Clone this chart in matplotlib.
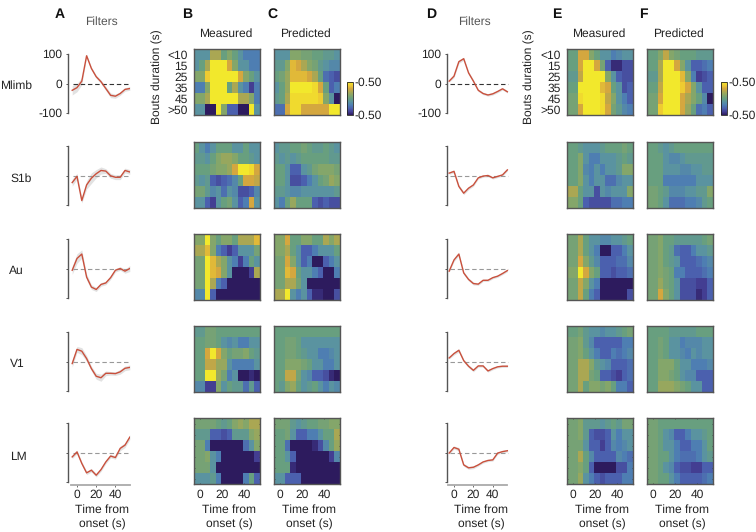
import numpy as np
import matplotlib
matplotlib.use('Agg')
import matplotlib.pyplot as plt
from matplotlib.colors import LinearSegmentedColormap

plt.rcParams['font.family'] = ['Liberation Sans', 'DejaVu Sans']
plt.rcParams['text.hinting'] = 'no_hinting'
plt.rcParams['text.hinting_factor'] = 1

W, H = 756, 532

# time axis of the filters (s)
filter_t = [-5, 0, 5, 10, 15, 20, 25, 30, 35, 40, 45, 50, 55]

# filters, panel A
a_mlimb = [-23, -14, 8, 94, 51, 23, 6, -17, -40, -43, -34, -20, -17]
a_s1b = [-24, -3, -85, -32, -9, 6, 17, 15, -1, -6, -6, 17, 12]
a_au = [-6, 34, 49, -29, -63, -71, -54, -49, -31, -6, 0, -9, 0]
a_v1 = [-7, 41, 35, 10, -24, -50, -55, -40, -40, -41, -35, -23, -20]
a_lm = [-15, 2, -37, -69, -60, -77, -58, -32, -12, -17, 14, 25, 52]

# filters, panel D
d_mlimb = [8, 25, 74, 84, 36, 8, -23, -34, -39, -35, -27, -18, -28]
d_s1b = [8, 14, -37, -60, -43, -32, -8, -2, 0, -8, -3, 2, 19]
d_au = [-9, 29, 49, -15, -37, -51, -53, -40, -40, -31, -26, -17, -7]
d_v1 = [12, 27, 38, 3, -16, -30, -15, -15, -32, -24, -18, -16, -16]
d_lm = [-2, 17, 11, -42, -52, -50, -42, -32, -27, -25, -2, 3, 6]

# sem of the filters
a_sem_mlimb = [16, 14, 12, 5, 5, 5, 6, 7, 8, 7, 6, 6, 6]
a_sem_s1b = [12, 10, 8, 14, 18, 14, 12, 8, 8, 8, 8, 8, 8]
a_sem_au = [14, 16, 14, 10, 8, 7, 6, 6, 6, 6, 6, 7, 10]
a_sem_v1 = [12, 10, 12, 10, 8, 10, 12, 8, 6, 6, 8, 8, 8]
a_sem_lm = [6, 6, 6, 6, 6, 6, 6, 6, 6, 6, 8, 8, 8]
d_sem = [4, 5, 6, 5, 5, 5, 4, 4, 4, 4, 4, 4, 4]

# heat maps, tenths of a unit: rows are bout durations, columns 5 s time bins
b_mlimb = [[-1, -1, -1, 2, 2, 0, 1, 0, -1, -2, -2, -2],
           [-1, 0, 2, 5, 5, 5, 3, 1, -1, -1, -2, -2],
           [1, 1, 4, 5, 5, 5, 5, 5, 3, 1, 0, -1],
           [-2, -2, 1, 5, 5, 5, 0, 2, -1, -2, -4, -2],
           [1, 1, 2, 5, 5, 5, 5, 5, 2, 2, 1, -2],
           [-1, -1, -5, -5, 5, 1, -3, -3, -5, -5, 5, -1]]
c_mlimb = [[-1, -1, -1, 1, 1, 0.5, 0.5, 0, 0, -0.5, -0.5, -1],
           [-0.5, -0.5, 1, 3.5, 3, 2, 1, 0.5, -0.5, -1, -1.5, -1.5],
           [0, 0.5, 1.5, 3.5, 3.5, 3.5, 3, 2, 0, -2.5, -3, -3.5],
           [-1, 0, 1.5, 5, 5, 5, 5, 4.5, 3, 0, -3, -2],
           [-0.5, 0, 2, 4.5, 4.5, 4.5, 4.5, 4.5, 4, 1, -1, -5],
           [-2.5, -2.5, 3, 4.5, 4.5, 3, 3, 3, 3, 3, 5, 5]]
b_s1b = [[0, -1, -2, -1, 0, 0, 0, -1, -1, 0, -1, -1],
         [-0.5, -0.5, -1, 0, 1, 1.5, 1.5, 1, 0, 0, -0.5, -1],
         [0, 0, 0, 0.5, 1, 1, 1.5, 3, 5, 5, 4.5, 3],
         [-0.5, -1, -0.5, -3, -3.5, -3, -2.5, -1.5, 0, 3, 3, 2.5],
         [0.5, 0.5, -0.5, -1.5, -1, -2.5, -1, -1.5, -3.5, -3.5, -3, -1.5],
         [-1, -1, -3, -4, -1, 0, 0.5, -1, -3, -2, 3, -1]]
c_s1b = [[-1, -0.5, -0.5, 0, 0, 0.5, 0, -0.5, -0.5, 0, -0.5, -1],
         [-0.5, -1, -0.5, -1, -0.5, 0, 0, 0, 0, 0, -0.5, -0.5],
         [0, 0, -1, -3, -3, -1, -0.5, 0.5, 1, 1, 1, 0.5],
         [0, 0, -1, -3.5, -3.5, -3, -2, -1, 0, 0.5, 1.5, 1],
         [-0.5, -0.5, -1, -1.5, -1.5, -1, -1, -1, -1, -1, -1, -0.5],
         [-1, -2, 0, 1.5, 0, 0, 0, -3, -3.5, -3, -3.5, -3.5]]
b_au = [[1, 1, 5, 1, 0, 1, 1, 0, 2, 2, 2, 3.5],
        [2, 2, 3.5, 1, -2, -3, -4, -3, -1, -1, -1, 0.5],
        [0.5, 0.5, 5, 3.5, 2, 1, -1, -2, -4, -2, 0, -1],
        [0.5, 0.5, 5, 3.5, 3, 1, -1, -5, -5, -5, -4, 2],
        [0.5, 0.5, 5, 2, -2, -3, -5, -5, -5, -5, -5, -5],
        [-1.5, -1.5, 5, -3, -5, -5, -5, -5, -5, -5, -5, -5]]
c_au = [[1, 1, 3, 0, 0, 1, 1, 0, 0, 2, 1, 2],
        [1, 1, 2, 0, -1, -3, -3, -2, -1, -1, -1, 0],
        [0.5, 0.5, 3, 1, -1, -3, -2, -5, -5, -3, -2, -1],
        [0.5, 0.5, 3.5, 3, 0, -1, -1, -2, -3, -5, -5, -2],
        [0.5, 0.5, 2, 2, 0.5, -1, -5, -5, -5, -5, -5, -5],
        [2, 2, 5, -1, -2, -1, -3, -4.5, -4.5, -5, -5, -3.5]]
b_v1 = [[-0.5, -0.5, 0.5, 0.5, 0, 0, 0, 0, 0, 0, 0, 0],
        [0, 0, 0.5, 0.5, 0, -1, -1.5, -1, -2, -2, -1, -1],
        [0, 0, 3, 5, 3, 1, 0, 0.5, 0.5, 1, 0, -0.5],
        [0, 0, 2.5, 2.5, 1.5, 1.5, -1, -2, -2, -2, -2, -1],
        [0, 0, 5, 5, 1.5, 0.5, -2, -1, -5, -5, -4.5, -5],
        [-1.5, -1.5, -4, -4, 1, -1, 0, -0.5, -0.5, -2.5, -0.5, -3]]
c_v1 = [[0, 0, 0, 0, 0, 0, 0, 0, 0, 0, 0, 0],
        [0, 0, 0.5, 0.5, 0, -1, -1, -1, -1, -1, -1, -1],
        [0, 0, 0.5, 0.5, 0, -0.5, -1, -1, -2, -2, -1.5, -1],
        [0, 0, 1, 1, 1, 0.5, 0, -1, -1, -2, -2, -1],
        [0, 0, 2.5, 2.5, 0.5, -1, -1.5, -3, -3, -3.5, -4.5, -5],
        [0, -0.5, 1, 1.5, 0, -1, -0.5, 0, -1, -2, -1, -1.5]]
b_lm = [[0.5, 0.5, 0.5, 0.5, 0, -0.5, 0, 1, 1.5, 1, 2, 2],
        [-0.5, -0.5, -0.5, -3, -3, -3.5, -3, -0.5, -0.5, -0.5, 1, 1.5],
        [0.5, 0.5, -2, -5, -5, -5, -5, -5, -5, -2.5, -1, 1],
        [0.5, 0.5, 1, -1, -2, -5, -5, -5, -5, -5, -5, -4],
        [0.5, 0.5, 0.5, -1, -5, -5, -5, -5, -5, -5, -5, -5],
        [-1, -1, -1, -0.5, -2, -5, -5, -5, -5, -2, 0, -3]]
c_lm = [[0.5, 0.5, 0.5, -0.5, -1, -0.5, 0, 0, 0.5, 0.5, 1, 1],
        [0, 0, 0.5, -1, -3, -3, -2, -2, -1, 0, 0, 2],
        [0, 0, -2.5, -5, -5, -5, -5, -4.5, -3.5, -1.5, 0, 1.5],
        [0, 0, -1, -3, -5, -5, -5, -5, -5, -5, -4, -1.5],
        [0, 0, 0, -4.5, -5, -5, -5, -5, -5, -5, -5, -5],
        [-1, -1, -3, -3, -3, -5, -5, -5, -5, -5, -5, -5]]

e_mlimb = [[0, 0, 3, 3, 1, 0, -1, -1, -2, -1.5, -1, -1],
           [0, 0, 3, 5, 5, 3, 0.5, -3, -4.5, -4.5, -3.5, -3.5],
           [-0.5, -0.5, 2.5, 5, 5, 5, 5, 1, -1, -3, -3.5, -3.5],
           [0, 0, 5, 5, 5, 5, 3.5, 3, 0, -1, -3.5, -3],
           [0.5, 0.5, 4.5, 5, 5, 5, 4.5, 2.5, 1, -1, -2, -3],
           [0.5, 0.5, 3, 5, 5, 5, 4.5, 3, 0.5, -0.5, -1.5, -2]]
f_mlimb = [[0, 0, 1, 2.5, 1, 0.5, 0, 0, 0, -0.5, -0.5, -0.5],
           [0, 0, 2, 5, 5, 3, 1, -1, -3, -3, -2.5, -2],
           [-0.5, -0.5, 2, 5, 5, 5, 3.5, 1, -2, -4, -3.5, -3],
           [0, 0, 2.5, 5, 5, 5, 4, 3, 1, -1, -3, -3],
           [0.5, 0.5, 3, 5, 5, 5, 3, 2, 1, 0, -1.5, -5],
           [0.5, 0.5, 4, 5, 5, 5, 3, 1.5, 0, -2.5, -2, -3]]
e_s1b = [[0, 0, -0.5, -1, -1, -1, -0.5, 0, 0, 0, 0.5, 0],
         [0, 0, 1, -1, -2, -2, -1, -1, -1, -0.5, 0, -0.5],
         [0, 0, 1, -1.5, -2, -1, -2, -1, -1, -0.5, 1, 1],
         [0, 0, 1, -1, -2, -1, -1, -2.5, -2.5, -1.5, -1, -1],
         [2, 2, 0, -1, -1, -3.5, -1, -1.5, -1, -1, -1, 1],
         [1, 1, 0, -3, -3.5, -3.5, -3.5, -3.5, -2.5, -2.5, -2, -2]]
f_s1b = [[0, 0, -0.5, -1, -0.5, 0, 0, 0, 0, 0, 0, 0],
         [0, 0, 0, -1, -1.5, -1.5, -1, -0.5, -0.5, -0.5, -0.5, -0.5],
         [0, 0, 0, -1, -1, -1, -1.5, -1.5, -1, -1, -0.5, -0.5],
         [0, 0, 0, -2, -2, -2, -2, -2, -2, -1, -1, -1],
         [0.5, 0.5, 0, -0.5, -1.5, -1.5, -1.5, -1, -1, -0.5, -0.5, 1],
         [0.5, 0.5, 0, -1, -2.5, -2.5, -2.5, -2, -2, -1.5, -0.5, 0]]
e_au = [[0.5, 0.5, 2, 0, -1, -1, -1.5, -1.5, -1, -1, -0.5, 0],
        [0.5, 0.5, 2, 0, -1, -2, -5, -5, -3, -3, -2, -1],
        [0.5, 0.5, 3, 1, -0.5, -1.5, -3, -3, -3, -2.5, -2.5, -1.5],
        [1, 1, 5, 3, 1, 0, -3, -3, -3.5, -3, -3, -2.5],
        [0.5, 0.5, 2.5, 1, -1, -2, -5, -5, -5, -5, -5, -5],
        [0.5, 0.5, 2.5, 0, -2, -3, -5, -5, -5, -5, -5, -3.5]]
f_au = [[0.5, 0.5, 1, 0, 0, -0.5, -0.5, -0.5, -0.5, -0.5, 0, 0.5],
        [0.5, 0.5, 1, 0, -0.5, -2.5, -3, -3, -2, -1, -1, -0.5],
        [0.5, 0.5, 1, 0, -0.5, -1, -3, -3, -3, -2.5, -2, -1.5],
        [0.5, 0.5, 1, 0.5, 0, -2, -2, -3, -3, -3, -2.5, -2],
        [0.5, 0.5, 1.5, 0.5, 0, -1, -3.5, -3.5, -3.5, -4, -4, -3],
        [0.5, 0.5, 3, 1, 0, -1, -3.5, -3.5, -3.5, -4.5, -4, -3]]
e_v1 = [[0, 0, 0.5, -0.5, -1, -1, -1.5, -1, -1, -0.5, 0, 0.5],
        [0.5, 0.5, 1, -0.5, -1.5, -3, -3, -3, -3, -3, -2, -2],
        [0.5, 0.5, 1, 0, -1, -2, -3, -3, -2, -2.5, -2, -1.5],
        [0.5, 0.5, 2, 2, 1, -0.5, -1, -1.5, -3, -3, -3, -2.5],
        [0.5, 0.5, 2, 2, 0.5, 0, -3, -3, -3.5, -4, -3, -2.5],
        [0.5, 0.5, 2, 0, 1, 1, 0.5, 1, 0, -2, -2, -3]]
f_v1 = [[0, 0, 0, 0, -0.5, -0.5, -0.5, -0.5, -0.5, 0, 0, 0],
        [0, 0, 0.5, 0, -1, -1, -2, -1.5, -1.5, -1.5, -1, -1],
        [0, 0, 0.5, 0, -1, -1, -1.5, -2, -1, -1.5, -1, -1],
        [0, 0, 1, 1, 1, 0, -1, -1, -2, -2, -2, -1.5],
        [0, 0, 1, 1, 0.5, 0, -1, -1.5, -1.5, -3, -3, -3],
        [0, 0, 1.5, 1.5, 1.5, 1, 0.5, 0, -1, -1, -3, -3]]
e_lm = [[0.5, 0.5, 1, -0.5, -0.5, -0.5, -1, -0.5, 0, -0.5, 0.5, 0.5],
        [0.5, 0.5, 1, -0.5, -3, -3.5, -3.5, -3, -1, -2, -1, -1],
        [0.5, 0.5, 0.5, -1, -3, -3, -4, -3, -1.5, -2, -1.5, -1],
        [0.5, 0.5, 2, 0, -1.5, -3, -3, -3, -3, -1.5, -2, -2.5],
        [0.5, 0.5, 1, 0, -3, -5, -5, -5, -5, -3.5, -3.5, -2],
        [0.5, 0.5, 1.5, -1, -2, -3, -3.5, -3, -3, -3, -2, -2]]
f_lm = [[0.5, 0.5, 0, 0, 0, 0, 0, 0, 0, 0, 0, 0],
        [0.5, 0.5, 0, -1, -1.5, -3, -3, -2, -1, -1, -0.5, 0],
        [0.5, 0.5, 0, -1, -1, -2, -3, -3, -2, -2, -1, 0],
        [0.5, 0.5, 0, 0, -1, -2, -2.5, -2.5, -2.5, -2, -1, -0.5],
        [0.5, 0.5, 0, -1, -1.5, -3, -3.5, -3.5, -4, -4, -3, -3],
        [0.5, 0.5, 0, 0, -1, -2, -3, -3, -3, -3, -2.5, -2]]

region_names = ['Mlimb', 'S1b', 'Au', 'V1', 'LM']
duration_labels = ['<10', '15', '25', '35', '45', '>50']
time_ticks = [0, 20, 40]

colors = ['#2d1b5e', '#443f94', '#4b60ae', '#4f7fb3', '#5a93a0', '#689f80',
          '#85a66a', '#aaa854', '#d4a73f', '#eecb32', '#f2e82c']
parula = LinearSegmentedColormap.from_list('parula_like', colors)

DARK = '#222222'
SPINE = '#555555'
FS = 8.6


def px_axes(x0, y0, x1, y1):
    # axes from pixel box, y counted from the top
    return fig.add_axes([x0 / W, 1 - y1 / H, (x1 - x0) / W, (y1 - y0) / H])


def px_text(x, y, s, **kw):
    kw.setdefault('ha', 'center')
    kw.setdefault('va', 'center')
    kw.setdefault('fontsize', FS)
    kw.setdefault('color', DARK)
    fig.text(x / W, 1 - y / H, s, **kw)


def draw_filter(x0, y0, zero_px, px_per_s, values, sem, row):
    ax = px_axes(x0, y0, x0 + 62, y0 + 59)
    left = (x0 - zero_px) / px_per_s
    ax.set_xlim(left, left + 62 / px_per_s)
    ax.set_ylim(-100, 100)
    ax.patch.set_alpha(0)
    t = np.array(filter_t)
    v = np.array(values)
    s = np.array(sem)
    ax.fill_between(t, v - s, v + s, color='#e2e2e2', lw=0, zorder=1)
    dash = '#333333' if row == 0 else '#999999'
    ax.plot([-4, 56], [0, 0], ls=(0, (4, 2.5)), color=dash, lw=0.8, zorder=2)
    ax.plot(t, v, color='#c9503c', lw=1.0, zorder=3)
    for side in ['top', 'right']:
        ax.spines[side].set_visible(False)
    ax.spines['left'].set_color(SPINE)
    ax.spines['left'].set_linewidth(1.0)
    ax.set_yticks([-100, 0, 100])
    if row == 0:
        ax.set_yticklabels(['-100', '0', '100'], fontsize=FS, color=DARK)
    else:
        ax.set_yticklabels([])
    ax.tick_params(axis='y', length=1.5, width=0.7, color=SPINE, pad=2.5)
    if row == 4:
        ax.spines['bottom'].set_position(('outward', 2.2))
        ax.spines['bottom'].set_bounds(-6, 55)
        ax.spines['bottom'].set_color('#aaaaaa')
        ax.spines['bottom'].set_linewidth(1.3)
        ax.set_xticks(time_ticks)
        ax.set_xticklabels([str(x) for x in time_ticks], fontsize=FS, color=DARK)
        ax.tick_params(axis='x', length=1.2, width=0.6, color=SPINE, pad=1.5)
    else:
        ax.spines['bottom'].set_visible(False)
        ax.set_xticks([])


def draw_map(x0, y0, values, row, labels=False):
    ax = px_axes(x0, y0, x0 + 66, y0 + 66)
    img = ax.imshow(np.array(values) / 10, cmap=parula, vmin=-0.5, vmax=0.5,
                    extent=[-5.4, 54.6, 5.5, -0.5], aspect='auto',
                    interpolation='nearest')
    for sp in ax.spines.values():
        sp.set_color(SPINE)
        sp.set_linewidth(1.0)
    ax.set_yticks(range(6))
    ax.set_yticklabels(duration_labels if labels else [], fontsize=FS, color=DARK)
    ax.tick_params(axis='y', length=0, pad=4.5)
    if row == 4:
        ax.set_xticks(time_ticks)
        ax.set_xticklabels([str(x) for x in time_ticks], fontsize=FS, color=DARK)
        ax.tick_params(axis='x', direction='in', top=True, length=1, width=0.5,
                       color='#333333', pad=4)
        ax.tick_params(axis='y', direction='in', right=True, length=1, width=0.5,
                       color='#333333')
    else:
        ax.set_xticks([])
    return img


def draw_colorbar(x0, img):
    cax = px_axes(x0, 82, x0 + 5.5, 115)
    cb = fig.colorbar(img, cax=cax)
    cb.set_ticks([-0.5, 0.5])
    cb.set_ticklabels(['-0.50', '-0.50'], fontsize=FS, color=DARK)
    cb.ax.tick_params(length=0, pad=1.5)
    cb.outline.set_linewidth(0.6)
    cb.outline.set_edgecolor('#222222')


fig = plt.figure(figsize=(W / 100, H / 100), dpi=100)

filter_y = [54, 146, 239, 332, 423]
map_y = [49, 142, 234, 326, 418]
a_filters = [a_mlimb, a_s1b, a_au, a_v1, a_lm]
a_sems = [a_sem_mlimb, a_sem_s1b, a_sem_au, a_sem_v1, a_sem_lm]
d_filters = [d_mlimb, d_s1b, d_au, d_v1, d_lm]
b_maps = [b_mlimb, b_s1b, b_au, b_v1, b_lm]
c_maps = [c_mlimb, c_s1b, c_au, c_v1, c_lm]
e_maps = [e_mlimb, e_s1b, e_au, e_v1, e_lm]
f_maps = [f_mlimb, f_s1b, f_au, f_v1, f_lm]

for i in range(5):
    draw_filter(68, filter_y[i], 77, 0.96, a_filters[i], a_sems[i], i)
    draw_filter(447, filter_y[i], 454, 0.97, d_filters[i], d_sem, i)
    b_img = draw_map(194, map_y[i], b_maps[i], i, labels=i == 0)
    c_img = draw_map(274, map_y[i], c_maps[i], i)
    e_img = draw_map(567, map_y[i], e_maps[i], i, labels=i == 0)
    f_img = draw_map(647, map_y[i], f_maps[i], i)

draw_colorbar(347, c_img)
draw_colorbar(721, f_img)

# labels around the panels
for x, y, name in zip([16, 21, 16, 17, 18], [86, 179, 271, 364, 457], region_names):
    px_text(x, y, name)
for x, s in zip([60, 187, 272, 431, 557, 643], 'ABCDEF'):
    px_text(x, 14, s, fontweight='bold', fontsize=10, color='#111111')
for x in [101, 474]:
    px_text(x, 22, 'Filters', color='#555555')
for x, s in zip([226, 305, 599, 678], ['Measured', 'Predicted', 'Measured', 'Predicted']):
    px_text(x, 34, s)
for x in [157.5, 529]:
    px_text(x, 77, 'Bouts duration (s)', rotation=90)
for x in [102, 229, 309, 481, 602, 682]:
    px_text(x, 509.5, 'Time from')
    px_text(x, 524.5, 'onset (s)')

fig.savefig('out.png', dpi=100)
